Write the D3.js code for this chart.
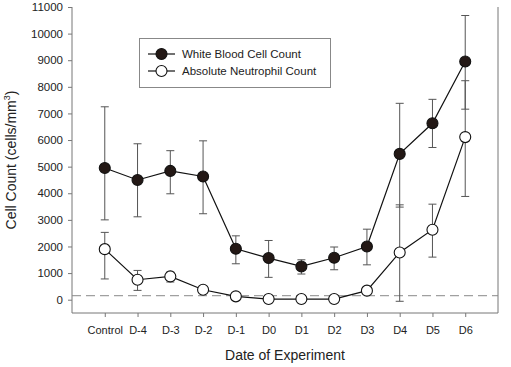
<!doctype html>
<html lang="en">
<head>
<meta charset="UTF-8">
<title>Cell Count</title>
<style>
  body { margin: 0; background: #fff; }
  svg { font-family: "Liberation Sans", Arial, sans-serif; }
</style>
</head>
<body>
<div class="chart"></div>
<script src="https://d3js.org/d3.v7.min.js"></script>
<script>
  const days = ['Control', 'D-4', 'D-3', 'D-2', 'D-1', 'D0', 'D1', 'D2', 'D3', 'D4', 'D5', 'D6']
  const wbc = [4950, 4500, 4840, 4630, 1915, 1565, 1250, 1575, 2000, 5480, 6630, 8950]
  const wbcErrUp = [7250, 5860, 5600, 5970, 2400, 2225, 1500, 1980, 2650, 7380, 7530, 10680]
  const wbcErrDown = [3000, 3115, 3980, 3230, 1350, 840, 965, 1125, 1310, 3480, 5720, 7160]
  const anc = [1900, 750, 875, 375, 125, 25, 25, 25, 340, 1775, 2630, 6110]
  const ancErrUp = [2530, 1100, 1040, 375, 125, 25, 25, 25, 340, 3565, 3590, 8230]
  const ancErrDown = [780, 350, 665, 375, 125, 25, 25, 25, 340, -60, 1600, 3880]
  const yTicks = d3.range(0, 11001, 1000)
  const refLine = 150

  const width = 511
  const height = 367
  const mLeft = 72, mRight = 498, mTop = 7, mBottom = 313

  const svg = d3.select('.chart').append('svg')
    .attr('width', width)
    .attr('height', height)

  const x = d3.scalePoint().domain(days).range([mLeft, mRight]).padding(1)
  const y = d3.scaleLinear().domain([-500, 11000]).range([mBottom, mTop])

  const yAxis = svg.append('g')
    .attr('transform', `translate(${mLeft},0)`)
    .call(d3.axisLeft(y).tickValues(yTicks).tickFormat(d3.format('d')).tickSize(4).tickPadding(5).tickSizeOuter(0))
  yAxis.select('.domain').attr('d', `M0,${mBottom}V${mTop}`)
  yAxis.selectAll('.tick text').style('font-size', '11.5px')

  const xAxis = svg.append('g')
    .attr('transform', `translate(0,${mBottom})`)
    .call(d3.axisBottom(x).tickSize(4).tickPadding(9).tickSizeOuter(0))
  xAxis.select('.domain').attr('d', `M${mLeft},0H${mRight}`)
  xAxis.selectAll('.tick text').style('font-size', '11px')

  svg.selectAll('.domain, .tick line').attr('stroke', '#777')
  svg.selectAll('.tick text').attr('fill', '#222')

  // right border
  svg.append('line')
    .attr('x1', mRight).attr('x2', mRight).attr('y1', mTop).attr('y2', mBottom)
    .attr('stroke', '#777')

  // reference line
  svg.append('line')
    .attr('x1', mLeft).attr('x2', mRight).attr('y1', y(refLine)).attr('y2', y(refLine))
    .attr('stroke', '#888').attr('stroke-dasharray', '9,5')

  const series = [
    {values: wbc, up: wbcErrUp, down: wbcErrDown, fill: '#231815'},
    {values: anc, up: ancErrUp, down: ancErrDown, fill: '#fff'}
  ]

  const capW = 4
  series.forEach(s => {
    const g = svg.append('g')
    days.forEach((d, i) => {
      if (s.up[i] === s.down[i]) return
      const cx = x(d)
      g.append('line').attr('x1', cx).attr('x2', cx).attr('y1', y(s.up[i])).attr('y2', y(s.down[i]))
      g.append('line').attr('x1', cx - capW).attr('x2', cx + capW).attr('y1', y(s.up[i])).attr('y2', y(s.up[i]))
      g.append('line').attr('x1', cx - capW).attr('x2', cx + capW).attr('y1', y(s.down[i])).attr('y2', y(s.down[i]))
    })
    g.selectAll('line').attr('stroke', '#555').attr('stroke-width', 1)
  })

  const line = d3.line().x((d, i) => x(days[i])).y(d => y(d))
  series.forEach(s => {
    svg.append('path')
      .datum(s.values)
      .attr('d', line)
      .attr('fill', 'none')
      .attr('stroke', '#111')
      .attr('stroke-width', 1.2)
  })

  series.forEach(s => {
    svg.append('g').selectAll('circle')
      .data(s.values)
      .enter()
      .append('circle')
      .attr('cx', (d, i) => x(days[i]))
      .attr('cy', d => y(d))
      .attr('r', 5.5)
      .attr('fill', s.fill)
      .attr('stroke', '#111')
      .attr('stroke-width', 1.1)
  })

  // legend
  svg.append('rect')
    .attr('x', 139.5).attr('y', 38.5).attr('width', 191).attr('height', 49)
    .attr('fill', '#fff').attr('stroke', '#888')
  const legend = [
    {label: 'White Blood Cell Count', fill: '#231815'},
    {label: 'Absolute Neutrophil Count', fill: '#fff'}
  ]
  legend.forEach((l, i) => {
    const ly = 54 + i * 17
    svg.append('line').attr('x1', 148).attr('x2', 175).attr('y1', ly).attr('y2', ly)
      .attr('stroke', '#111').attr('stroke-width', 1.2)
    svg.append('circle').attr('cx', 161.5).attr('cy', ly).attr('r', 5.5)
      .attr('fill', l.fill).attr('stroke', '#111').attr('stroke-width', 1.1)
    svg.append('text').attr('x', 182).attr('y', ly + 4)
      .attr('fill', '#222').style('font-size', '11.5px').text(l.label)
  })

  // axis titles
  svg.append('text')
    .attr('x', (mLeft + mRight) / 2).attr('y', 360)
    .attr('text-anchor', 'middle').attr('fill', '#222').style('font-size', '14px')
    .text('Date of Experiment')

  const yTitle = svg.append('text')
    .attr('transform', `translate(16,${(mTop + mBottom) / 2}) rotate(-90)`)
    .attr('text-anchor', 'middle').attr('fill', '#222').style('font-size', '14px')
  yTitle.append('tspan').text('Cell Count (cells/mm')
  yTitle.append('tspan').attr('dy', -6).style('font-size', '9px').text('3')
  yTitle.append('tspan').attr('dy', 6).text(')')
</script>
</body>
</html>
